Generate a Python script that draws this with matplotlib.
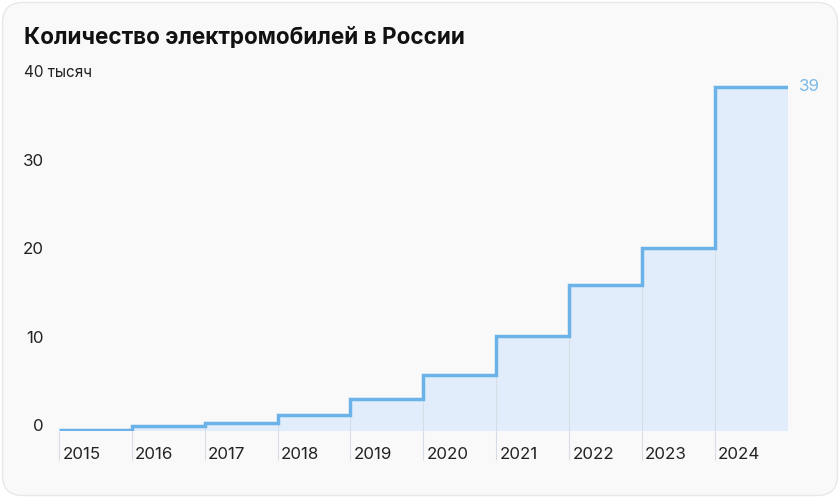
import matplotlib
matplotlib.use("Agg")
import matplotlib.pyplot as plt
from matplotlib.patches import FancyBboxPatch
import matplotlib.transforms as mtransforms

years = ["2015", "2016", "2017", "2018", "2019", "2020", "2021", "2022", "2023", "2024"]
values = [0.1, 0.6, 0.87, 1.8, 3.6, 6.3, 10.8, 16.5, 20.7, 39]
y_ticks = [0, 10, 20, 30]
y_top_label = "40 тысяч"
title = "Количество электромобилей в России"
last_label = "39"

plt.rcParams['font.family'] = ['Inter', 'DejaVu Sans']

W, H = 840, 498
fig = plt.figure(figsize=(W / 100, H / 100), dpi=100)
fig.patch.set_facecolor("white")

# card background
card = FancyBboxPatch((2.5 / W, 2.5 / H), (W - 5) / W, (H - 5) / H,
                      boxstyle="round,pad=0,rounding_size=0.024",
                      transform=fig.transFigure, facecolor="#f9f9f9",
                      edgecolor="#e8e8e8", linewidth=1.0, zorder=-10,
                      mutation_aspect=W / H)
fig.patches.append(card)

# axes: x from px 59 to 787.7, y 0 at px 431, 40 at px 78
x0, x1 = 59, 787.7
y0px, y40px = 431, 78
ax = fig.add_axes([x0 / W, (H - y0px) / H, (x1 - x0) / W, (y0px - y40px) / H])
ax.set_zorder(1)
ax.set_xlim(0, len(years))
ax.set_ylim(0, 40)
ax.patch.set_alpha(0)
for s in ax.spines.values():
    s.set_visible(False)
ax.set_xticks([])
ax.set_yticks([])

n = len(values)
xs = list(range(n + 1))
ys = values + [values[-1]]

ax.fill_between(xs, 0, ys, step="post", color="#e1edfa", zorder=1, linewidth=0)

# vertical gridlines
pix_per_unit = (y0px - y40px) / 40
below = -29 / pix_per_unit
for i in range(n):
    top = values[i - 1] if i > 0 else 0
    ax.plot([i, i], [below, top], color="#d6dde6", linewidth=0.8, zorder=2,
            clip_on=False, solid_capstyle="butt")

ax.step(xs, ys, where="post", color="#6bb2e8", linewidth=2.5, zorder=3,
        solid_joinstyle="miter", solid_capstyle="butt")

# year labels
for i, yr in enumerate(years):
    ax.text(i + 0.045, -23.2 / pix_per_unit, yr, ha="left", va="center",
            fontsize=12.2, color="#222222", zorder=4, clip_on=False)

# y tick labels (right-aligned at px 44, slightly above gridline)
trans = mtransforms.blended_transform_factory(fig.transFigure, ax.transData)
for t in y_ticks:
    ax.text(44 / W, t + 4.6 / pix_per_unit, str(t), transform=trans,
            ha="right", va="center", fontsize=12.2, color="#222222", clip_on=False)
ax.text(24 / W, 40 + 5.2 / pix_per_unit, y_top_label, transform=trans,
        ha="left", va="center", fontsize=11, color="#222222", clip_on=False)

# end label
ax.text(n + 0.15, values[-1], last_label, ha="left", va="center",
        fontsize=12.2, color="#7ab8e6", clip_on=False)

fig.text(24 / W, 1 - 38.5 / H, title, ha="left", va="center",
         fontsize=16.2, fontweight="bold", color="#111111")

fig.savefig("out.png", dpi=100, facecolor="white")
